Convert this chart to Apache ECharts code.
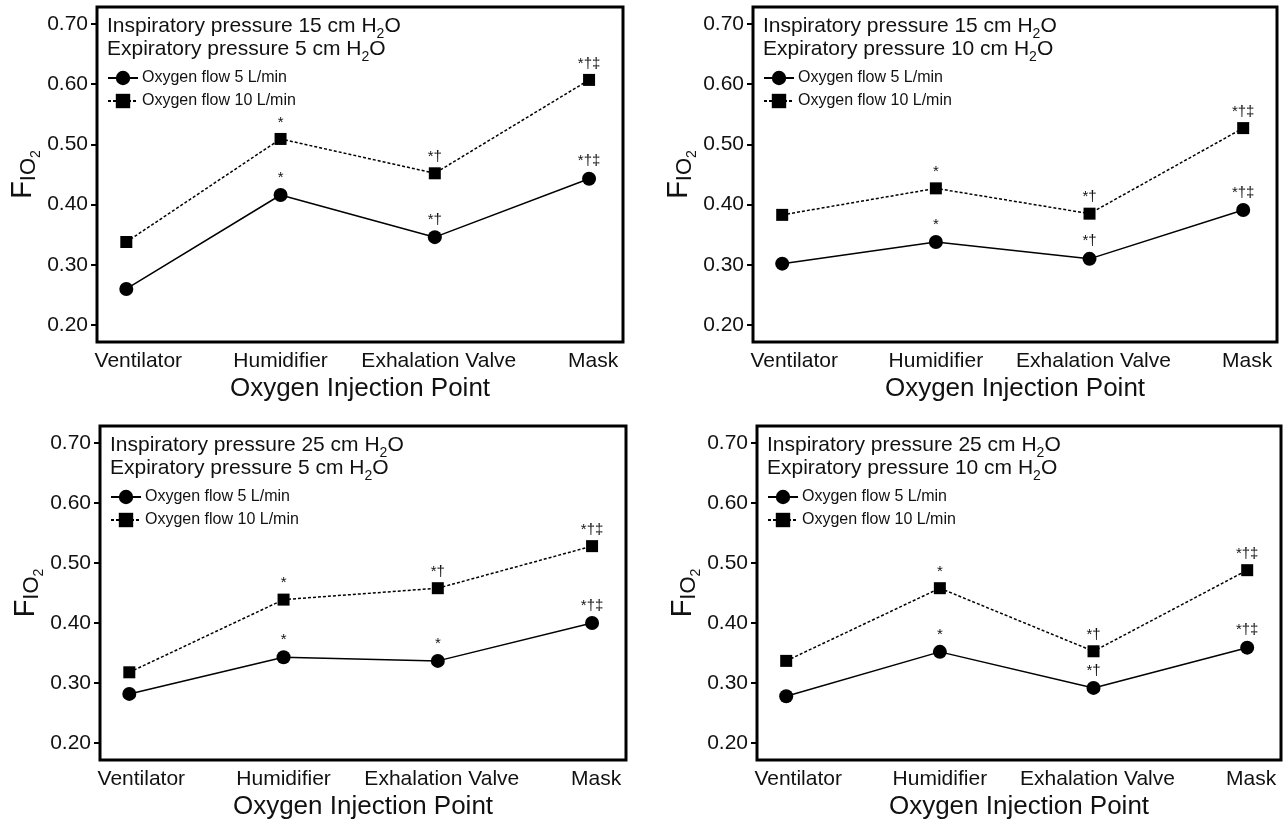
<!DOCTYPE html>
<html>
<head>
<meta charset="utf-8">
<script src="https://cdn.jsdelivr.net/npm/echarts@6/dist/echarts.min.js"></script>
<style>
html,body{margin:0;padding:0;background:#fff;}
#chart{width:1283px;height:821px;}
</style>
</head>
<body>
<div id="chart"></div>
<script>
// ---- data ----
const categories = ['Ventilator', 'Humidifier', 'Exhalation Valve', 'Mask'];
const yTicks = [0.20, 0.30, 0.40, 0.50, 0.60, 0.70];
const inspiratory = [15, 15, 25, 25];
const expiratory = [5, 10, 5, 10];
const seriesNames = ['Oxygen flow 5 L/min', 'Oxygen flow 10 L/min'];

// FIO2 values, panel order: top-left, top-right, bottom-left, bottom-right
const flow5_ip15_ep5  = [0.260, 0.416, 0.346, 0.443];
const flow10_ip15_ep5 = [0.338, 0.509, 0.452, 0.607];
const flow5_ip15_ep10  = [0.302, 0.338, 0.310, 0.391];
const flow10_ip15_ep10 = [0.383, 0.427, 0.385, 0.527];
const flow5_ip25_ep5  = [0.282, 0.343, 0.337, 0.400];
const flow10_ip25_ep5 = [0.318, 0.439, 0.458, 0.528];
const flow5_ip25_ep10  = [0.278, 0.352, 0.292, 0.359];
const flow10_ip25_ep10 = [0.337, 0.458, 0.353, 0.488];

// significance marks
const marks5_ip15_ep5   = ['', '*', '*\u2020', '*\u2020\u2021'];
const marks10_ip15_ep5  = ['', '*', '*\u2020', '*\u2020\u2021'];
const marks5_ip15_ep10  = ['', '*', '*\u2020', '*\u2020\u2021'];
const marks10_ip15_ep10 = ['', '*', '*\u2020', '*\u2020\u2021'];
const marks5_ip25_ep5   = ['', '*', '*', '*\u2020\u2021'];
const marks10_ip25_ep5  = ['', '*', '*\u2020', '*\u2020\u2021'];
const marks5_ip25_ep10  = ['', '*', '*\u2020', '*\u2020\u2021'];
const marks10_ip25_ep10 = ['', '*', '*\u2020', '*\u2020\u2021'];

// ---- layout ----
const FONT = 'Liberation Sans, Arial, Helvetica, sans-serif';
const panels = [
  {grid:{left:97, top:7, width:526, height:335}, f5:flow5_ip15_ep5, f10:flow10_ip15_ep5, m5:marks5_ip15_ep5, m10:marks10_ip15_ep5},
  {grid:{left:753, top:7, width:524, height:335}, f5:flow5_ip15_ep10, f10:flow10_ip15_ep10, m5:marks5_ip15_ep10, m10:marks10_ip15_ep10},
  {grid:{left:100, top:426, width:526, height:335}, f5:flow5_ip25_ep5, f10:flow10_ip25_ep5, m5:marks5_ip25_ep5, m10:marks10_ip25_ep5},
  {grid:{left:757, top:426, width:524, height:335}, f5:flow5_ip25_ep10, f10:flow10_ip25_ep10, m5:marks5_ip25_ep10, m10:marks10_ip25_ep10}
];

const grids = [], xAxes = [], yAxes = [], series = [], titles = [], legends = [];
const txtRich = {
  t: {fontSize: 21, fontFamily: FONT, fontWeight: 'normal', color: '#111', lineHeight: 23, padding: [0, 0, 4, 0], verticalAlign: 'bottom'},
  s: {fontSize: 14, fontFamily: FONT, fontWeight: 'normal', color: '#111', lineHeight: 14, verticalAlign: 'bottom'}
};
const nameRich = {
  f: {fontSize: 29, fontFamily: FONT, color: '#111', lineHeight: 30, padding: [0, 0, 6, 0], verticalAlign: 'bottom'},
  i: {fontSize: 22, fontFamily: FONT, color: '#111', lineHeight: 24, padding: [0, 0, 3, 0], verticalAlign: 'bottom'},
  s: {fontSize: 14, fontFamily: FONT, color: '#111', lineHeight: 16, verticalAlign: 'bottom'}
};
const xLabelRich = {
  v: {fontSize: 21, fontFamily: FONT, color: '#111', padding: [0, 0, 0, 24]},
  c: {fontSize: 21, fontFamily: FONT, color: '#111', padding: [0, 0, 0, 8]}
};

panels.forEach((p, k) => {
  grids.push(Object.assign({show: true, borderColor: '#000', borderWidth: 3, backgroundColor: 'transparent'}, p.grid));
  xAxes.push({
    gridIndex: k, type: 'value', min: -0.19, max: 3.22,
    axisLine: {show: false, onZero: false}, axisTick: {show: false}, splitLine: {show: false},
    axisLabel: {customValues: [0, 1, 2, 3],
      formatter: v => { const i = Math.round(v); return i === 0 ? '{v|' + categories[i] + '}' : (i === 1 ? categories[i] : '{c|' + categories[i] + '}'); },
      rich: xLabelRich, fontSize: 21, fontFamily: FONT, color: '#111', margin: 9},
    name: 'Oxygen Injection Point', nameLocation: 'middle', nameGap: 34,
    nameTextStyle: {fontSize: 26, fontFamily: FONT, color: '#111'}
  });
  yAxes.push({
    gridIndex: k, type: 'value', min: 0.172, max: 0.728,
    axisLine: {show: false, onZero: false}, splitLine: {show: false},
    axisTick: {show: true, customValues: yTicks, length: 6, lineStyle: {color: '#000', width: 2}},
    axisLabel: {customValues: yTicks, formatter: v => v.toFixed(2), fontSize: 21, fontFamily: FONT, color: '#111', margin: 9},
    name: '{f|F}{i|IO}{s|2}', nameLocation: 'middle', nameRotate: 90, nameGap: 54,
    nameTextStyle: {rich: nameRich}
  });
  const l1 = p.grid.left + 10;
  titles.push({
    left: l1, top: p.grid.top + 11, padding: 0,
    text: '{t|Inspiratory pressure ' + inspiratory[k] + ' cm H}{s|2}{t|O}\n{t|Expiratory pressure ' + expiratory[k] + ' cm H}{s|2}{t|O}',
    textStyle: {rich: txtRich, fontWeight: 'normal'}
  });
  legends.push({
    left: l1, top: p.grid.top + 63, orient: 'vertical', padding: 0,
    itemWidth: 30, itemHeight: 18, itemGap: 7,
    data: seriesNames,
    selectedMode: false,
    textStyle: {fontSize: 16, fontFamily: FONT, color: '#111', padding: [0, 0, 0, -1]}
  });
  const mk = (vals, marks, name, symbol, size, dashed) => ({
    name: name, type: 'line', xAxisIndex: k, yAxisIndex: k,
    data: vals.map((v, i) => [i, v]),
    symbol: symbol, symbolSize: size,
    itemStyle: {color: '#000'},
    lineStyle: {color: '#000', width: 1.5, type: dashed ? [3, 2] : 'solid'},
    label: {show: true, position: 'top', distance: 3, formatter: pr => marks[pr.dataIndex],
      fontSize: 15, fontFamily: FONT, color: '#111'},
    emphasis: {disabled: true},
    animation: false, z: dashed ? 3 : 4
  });
  series.push(mk(p.f5, p.m5, seriesNames[0], 'circle', 14, false));
  series.push(mk(p.f10, p.m10, seriesNames[1], 'rect', 12, true));
});

const chart = echarts.init(document.getElementById('chart'), null, {renderer: 'canvas'});
chart.setOption({
  backgroundColor: '#fff',
  animation: false,
  title: titles, legend: legends,
  grid: grids, xAxis: xAxes, yAxis: yAxes, series: series
});
</script>
</body>
</html>
